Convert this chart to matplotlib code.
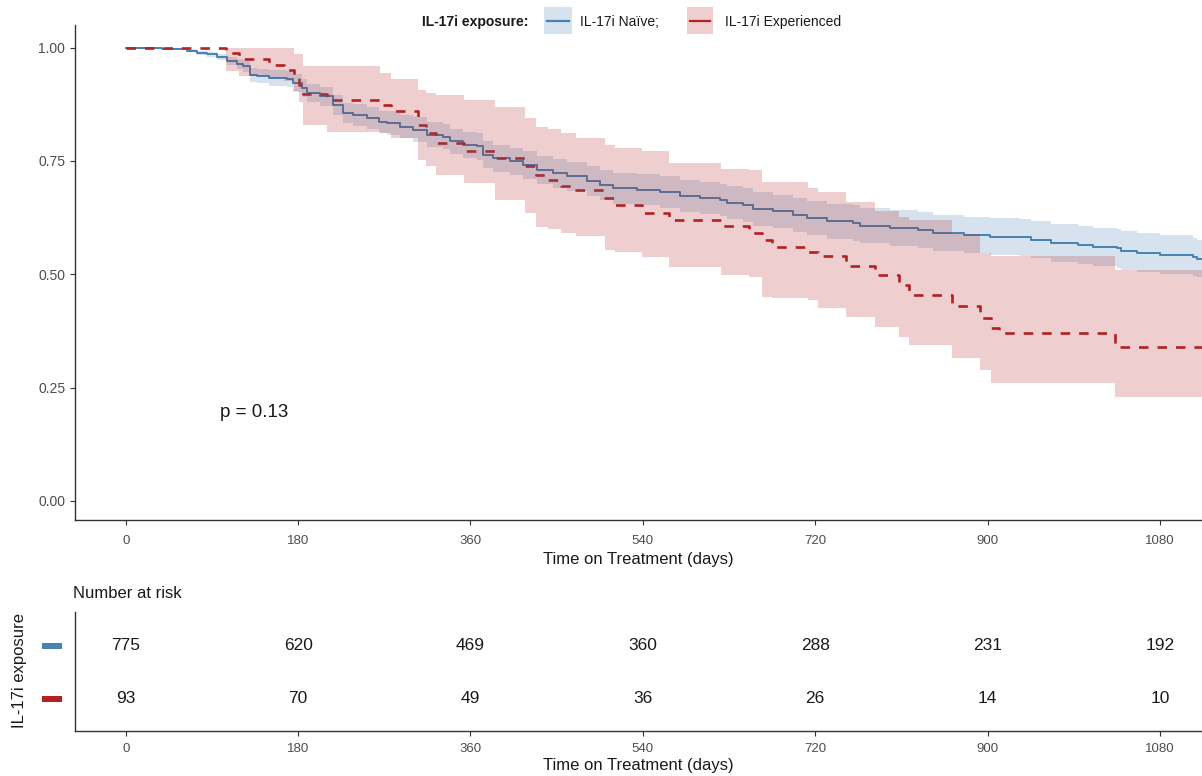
import matplotlib
matplotlib.use('Agg')
import matplotlib.pyplot as plt
from matplotlib.patches import Rectangle
from matplotlib.lines import Line2D
import numpy as np

plt.rcParams['font.family'] = ['Liberation Sans', 'DejaVu Sans']

# ---------------- data ----------------
naive_t = [0, 28, 38, 64, 74, 85, 95, 106, 116, 122, 130, 137, 150, 168, 175, 184, 189, 203, 216, 227,
           237, 252, 265, 273, 286, 300, 315, 331, 339, 352, 367, 373, 384, 401, 415, 429, 446, 461,
           482, 495, 509, 534, 558, 579, 600, 621, 628, 645, 655, 676, 697, 711, 732, 760, 767, 798,
           827, 843, 875, 903, 934, 945, 966, 994, 1010, 1035, 1039, 1056, 1080, 1115, 1119, 1124]
naive_s = [1.0, 0.999, 0.996, 0.993, 0.988, 0.985, 0.979, 0.971, 0.964, 0.959, 0.940, 0.937, 0.933,
           0.931, 0.922, 0.911, 0.900, 0.893, 0.874, 0.856, 0.852, 0.845, 0.836, 0.834, 0.826, 0.819,
           0.808, 0.804, 0.793, 0.786, 0.782, 0.764, 0.756, 0.749, 0.742, 0.731, 0.723, 0.716, 0.705,
           0.698, 0.690, 0.687, 0.681, 0.673, 0.668, 0.664, 0.658, 0.653, 0.644, 0.639, 0.631, 0.624,
           0.617, 0.613, 0.607, 0.602, 0.597, 0.591, 0.587, 0.583, 0.582, 0.576, 0.570, 0.565, 0.561,
           0.558, 0.552, 0.548, 0.543, 0.539, 0.534, 0.534]
# half-width of the 95% confidence band of the naive group
naive_ci = [0.0, 0.001, 0.002, 0.003, 0.004, 0.005, 0.007, 0.009, 0.011, 0.013, 0.015, 0.016, 0.017,
            0.018, 0.019, 0.020, 0.020, 0.021, 0.022, 0.023, 0.024, 0.025, 0.025, 0.026, 0.026, 0.027,
            0.027, 0.028, 0.028, 0.029, 0.029, 0.030, 0.030, 0.030, 0.031, 0.031, 0.032, 0.032, 0.033,
            0.033, 0.034, 0.034, 0.035, 0.035, 0.036, 0.036, 0.036, 0.037, 0.037, 0.037, 0.038, 0.038,
            0.038, 0.039, 0.039, 0.039, 0.040, 0.040, 0.040, 0.041, 0.041, 0.041, 0.042, 0.042, 0.042,
            0.043, 0.043, 0.043, 0.043, 0.042, 0.041, 0.041]

exp_t = [0, 105, 118, 150, 165, 176, 181, 185, 210, 266, 277, 305, 314, 324, 353, 386, 417, 428, 441,
         455, 470, 501, 511, 539, 567, 622, 651, 664, 675, 713, 723, 752, 783, 808, 818, 863, 892, 904,
         912, 1033, 1124]
exp_s = [1.0, 0.989, 0.976, 0.962, 0.951, 0.933, 0.918, 0.897, 0.885, 0.874, 0.860, 0.830, 0.812,
         0.790, 0.771, 0.756, 0.738, 0.720, 0.709, 0.694, 0.687, 0.668, 0.653, 0.635, 0.620, 0.606,
         0.592, 0.576, 0.561, 0.550, 0.541, 0.519, 0.499, 0.477, 0.455, 0.429, 0.404, 0.382, 0.371,
         0.340, 0.340]
exp_hi = [1.0, 1.0, 1.0, 1.0, 1.0, 0.985, 0.985, 0.96, 0.96, 0.945, 0.93, 0.907, 0.90, 0.895, 0.885,
          0.87, 0.845, 0.826, 0.82, 0.812, 0.80, 0.785, 0.778, 0.772, 0.745, 0.733, 0.731, 0.704, 0.704,
          0.69, 0.682, 0.66, 0.64, 0.627, 0.62, 0.59, 0.547, 0.54, 0.54, 0.51, 0.51]
exp_lo = [1.0, 0.948, 0.937, 0.933, 0.926, 0.904, 0.88, 0.83, 0.815, 0.812, 0.80, 0.753, 0.74, 0.72,
          0.702, 0.664, 0.636, 0.605, 0.60, 0.592, 0.585, 0.554, 0.55, 0.539, 0.517, 0.499, 0.494, 0.45,
          0.448, 0.444, 0.426, 0.406, 0.384, 0.362, 0.344, 0.316, 0.29, 0.26, 0.26, 0.23, 0.23]

risk_times = [0, 180, 360, 540, 720, 900, 1080]
naive_risk = [775, 620, 469, 360, 288, 231, 192]
exp_risk = [93, 70, 49, 36, 26, 14, 10]
y_ticks = [0.0, 0.25, 0.5, 0.75, 1.0]
p_text = 'p = 0.13'
legend_title = 'IL-17i exposure:'
group_labels = ['IL-17i Naïve;', 'IL-17i Experienced']
x_title = 'Time on Treatment (days)'

BLUE = '#4682B4'
RED = '#B22222'
TICKC = '#4d4d4d'
SPINE = '#333333'
TXT = '#1a1a1a'
BAND_A = 0.22

naive_hi = np.array(naive_s) + np.array(naive_ci)
naive_lo = np.array(naive_s) - np.array(naive_ci)

# ---------------- figure ----------------
W, H = 1202, 776
fig = plt.figure(figsize=(W / 100, H / 100), dpi=100)


def fx(px):
    return px / W


def fy(py):
    return 1 - py / H


XLIM = (-53, 1124)

ax = fig.add_axes([fx(75), fy(520), fx(1202) - fx(75), fy(25) - fy(520)])
ax.step(naive_t, naive_s, where='post', color=BLUE, lw=1.4, zorder=2)
ax.step(exp_t, exp_s, where='post', color=RED, lw=1.9, ls=(0, (3.6, 3.4)), zorder=2)
ax.fill_between(naive_t, naive_lo, naive_hi, step='post', color=BLUE, alpha=BAND_A, lw=0, zorder=3)
ax.fill_between(exp_t, exp_lo, exp_hi, step='post', color=RED, alpha=BAND_A, lw=0, zorder=3)

ax.set_xlim(*XLIM)
ax.set_ylim(-0.042, 1.05)
ax.set_xticks(risk_times)
ax.set_yticks(y_ticks)
ax.set_yticklabels([f'{v:.2f}' for v in y_ticks])
for s in ['top', 'right']:
    ax.spines[s].set_visible(False)
for s in ['left', 'bottom']:
    ax.spines[s].set_color(SPINE)
    ax.spines[s].set_linewidth(1.0)
ax.tick_params(axis='both', colors=SPINE, labelcolor=TICKC, labelsize=9.5, length=3.5, width=0.8)
ax.tick_params(axis='x', pad=7)
ax.tick_params(axis='y', labelsize=10)
ax.set_xlabel(x_title, fontsize=12, color=TXT, labelpad=4)
ax.text(98, 0.196, p_text, fontsize=13.5, ha='left', va='center', color=TXT)

# ---------------- risk table ----------------
rt = fig.add_axes([fx(75), fy(731), fx(1202) - fx(75), fy(612) - fy(731)])
rt.set_xlim(*XLIM)
rt.set_ylim(0.396, 2.64)
for t, n in zip(risk_times, naive_risk):
    rt.text(t, 2, str(n), ha='center', va='center', fontsize=12.5, color=TXT)
for t, n in zip(risk_times, exp_risk):
    rt.text(t, 1, str(n), ha='center', va='center', fontsize=12.5, color=TXT)
rt.set_xticks(risk_times)
rt.set_yticks([])
for s in ['top', 'right']:
    rt.spines[s].set_visible(False)
for s in ['left', 'bottom']:
    rt.spines[s].set_color(SPINE)
    rt.spines[s].set_linewidth(1.0)
rt.tick_params(axis='x', colors=SPINE, labelcolor=TICKC, labelsize=9.5, length=3.5, width=0.8, pad=5)
rt.set_xlabel(x_title, fontsize=12, color=TXT, labelpad=2.5)

fig.text(fx(73), fy(594), 'Number at risk', fontsize=12, ha='left', va='center', color=TXT)
fig.text(fx(20), fy(670), 'IL-17i exposure', fontsize=12, rotation=90, ha='center', va='center',
         color=TXT)
fig.patches.append(Rectangle((fx(42), fy(649)), fx(62) - fx(42), fy(643) - fy(649),
                             transform=fig.transFigure, facecolor=BLUE, edgecolor='none'))
fig.patches.append(Rectangle((fx(42), fy(702)), fx(62) - fx(42), fy(696) - fy(702),
                             transform=fig.transFigure, facecolor=RED, edgecolor='none'))

# ---------------- legend (top) ----------------
fig.text(fx(528), fy(22), legend_title, fontsize=10, fontweight='bold', ha='right', va='center',
         color=TXT)
for (x0, x1, tx), col, lab in zip([(544, 572, 580), (687, 713, 725)], [BLUE, RED], group_labels):
    fig.patches.append(Rectangle((fx(x0), fy(34)), fx(x1) - fx(x0), fy(7) - fy(34),
                                 transform=fig.transFigure, facecolor=col, alpha=BAND_A,
                                 edgecolor='none'))
    fig.lines.append(Line2D([fx(x0 + 3), fx(x1 - 3)], [fy(21), fy(21)], transform=fig.transFigure,
                            color=col, lw=1.6))
    fig.text(fx(tx), fy(22), lab, fontsize=10, ha='left', va='center', color=TXT)

fig.savefig('out.png', dpi=100)
